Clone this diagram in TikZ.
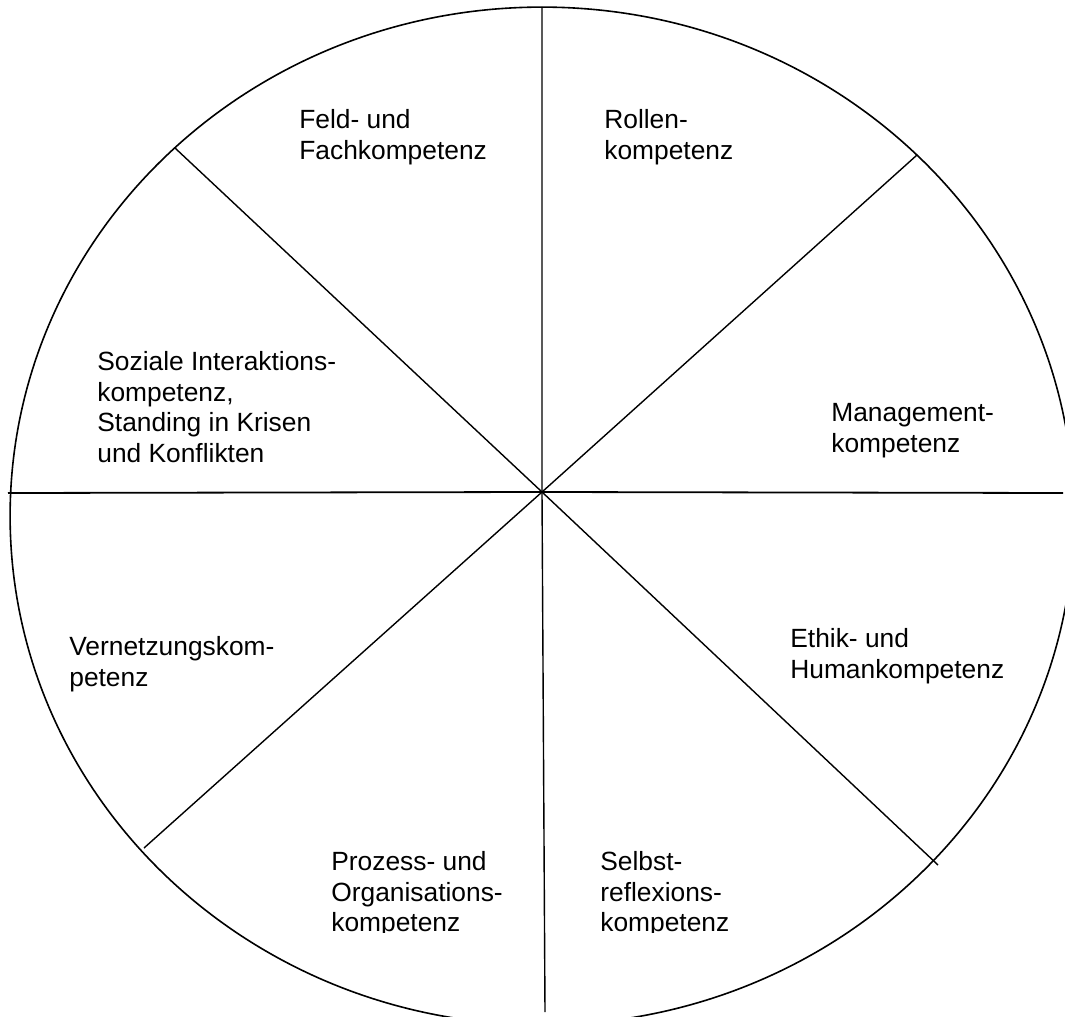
\documentclass[tikz,border=0pt]{standalone}
\usepackage{fontspec}
\setmainfont{Liberation Sans}
\usetikzlibrary{positioning}

\begin{document}
\begin{tikzpicture}[x=0.02cm,y=-0.02cm,
  field/.style={font=\fontsize{15}{17.4}\selectfont,anchor=north west,align=left,inner sep=0pt},
  spoke/.style={draw=black,line width=0.028cm},
  rim/.style={draw=black,line width=0.032cm}]
\useasboundingbox (0,0) rectangle (1065,1017);

% rim and spokes
\draw[rim] (542,516) ellipse [x radius=10.64cm, y radius=10.18cm];
\coordinate (hub) at (542,492);
\coordinate (top) at (542,7);
\coordinate (bottom) at (545,1012);
\coordinate (left) at (8,493);
\coordinate (right) at (1063,493);
\coordinate (nw) at (175,148);
\coordinate (se) at (938,865);
\coordinate (ne) at (917,155);
\coordinate (sw) at (144,848);
\draw[spoke] (top) -- (hub) -- (bottom);
\draw[spoke,line width=0.036cm] (left) -- (hub) -- (right);
\draw[spoke] (nw) -- (hub) -- (se);
\draw[spoke] (ne) -- (hub) -- (sw);

% sector labels
\node[field] (feld) at (299,109) {Feld- und\\Fachkompetenz};
\node[field] (rollen) at (604,109) {Rollen-\\kompetenz};
\node[field] (sozial) at (97,351) {Soziale Interaktions-\\kompetenz,\\Standing in Krisen\\und Konflikten};
\node[field] (mgmt) at (831,403) {Management-\\kompetenz};
\node[field] (netz) at (69,636) {Vernetzungskom-\\petenz};
\node[field] (ethik) at (790,628) {Ethik- und\\Humankompetenz};
\begin{scope}
\clip (300,830) rectangle (760,932);
\node[field] (prozess) at (331,851) {Prozess- und\\Organisations-\\kompetenz};
\node[field] (selbst) at (600,851) {Selbst-\\reflexions-\\kompetenz};
\end{scope}

\end{tikzpicture}
\end{document}
